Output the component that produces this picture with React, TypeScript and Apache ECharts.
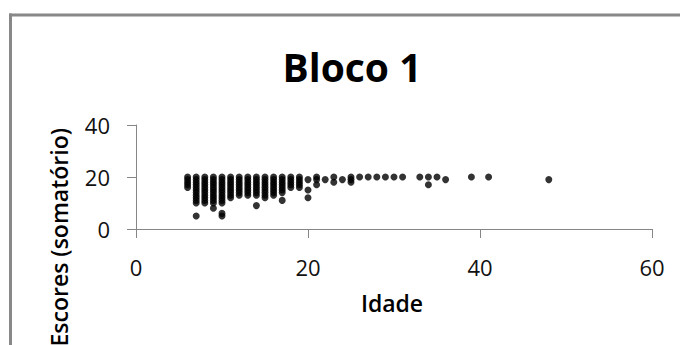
import React, { useEffect, useRef } from "react";
import * as echarts from "echarts";

const titleText = "Bloco 1";
const xAxisTitle = "Idade";
const yAxisTitle = "Escores (somatório)";

const xTicks = [0, 20, 40, 60];
const yTicks = [0, 20, 40];

const ages = [6, 7, 8, 9, 10, 11, 12, 13, 14, 15, 16, 17, 18, 19, 20, 21, 22, 23, 24, 25, 26, 27, 28, 29, 30, 31, 33, 34, 35, 36, 39, 41, 48];
const scoresByAge: number[][] = [
  [20, 19, 18, 17, 16],
  [20, 19, 18, 17, 16, 15, 14, 13, 12, 11, 10, 5],
  [20, 19, 18, 17, 16, 15, 14, 13, 12, 11, 10],
  [20, 19, 18, 17, 16, 15, 14, 13, 12, 11, 10, 8],
  [20, 19, 18, 17, 16, 15, 14, 13, 12, 11, 10, 6, 5],
  [20, 19, 18, 17, 16, 15, 14, 13, 12],
  [20, 19, 18, 17, 16, 15, 14, 13],
  [20, 19, 18, 17, 16, 15, 14, 13],
  [20, 19, 18, 17, 16, 15, 14, 13, 9],
  [20, 19, 18, 17, 16, 15, 14, 13, 12],
  [20, 19, 18, 17, 16, 15, 14, 13],
  [20, 19, 18, 17, 16, 15, 14, 11],
  [20, 19, 18, 17, 16],
  [20, 19, 18, 17, 16],
  [19, 15, 12],
  [20, 19, 17],
  [19],
  [20, 18],
  [19],
  [20, 19, 18],
  [20],
  [20],
  [20],
  [20],
  [20],
  [20],
  [20],
  [20, 17],
  [20],
  [19],
  [20],
  [20],
  [19],
];

const FONT = "'Open Sans', 'Noto Sans', sans-serif";

export default function App() {
  const ref = useRef<HTMLDivElement>(null);
  useEffect(() => {
    if (!ref.current) return;
    const chart = echarts.init(ref.current, undefined, { renderer: "svg" });
    const points: [number, number][] = [];
    ages.forEach((a, i) => {
      scoresByAge[i].forEach((s) => points.push([a, s]));
    });
    chart.setOption({
      animation: false,
      backgroundColor: "#fff",
      grid: { left: 136, right: 28, top: 125, bottom: 116, containLabel: false },
      xAxis: {
        type: "value",
        min: xTicks[0],
        max: xTicks[xTicks.length - 1],
        interval: 20,
        axisLine: { show: true, onZero: false, lineStyle: { color: "#868686", width: 1 } },
        axisTick: { show: true, length: 9, lineStyle: { color: "#868686" } },
        axisLabel: { margin: 27, fontSize: 22, fontFamily: FONT, color: "#111" },
        splitLine: { show: false },
      },
      yAxis: {
        type: "value",
        min: yTicks[0],
        max: yTicks[yTicks.length - 1],
        interval: 20,
        axisLine: { show: true, onZero: false, lineStyle: { color: "#868686", width: 1 } },
        axisTick: { show: true, length: 9, lineStyle: { color: "#868686" } },
        axisLabel: { margin: 26, fontSize: 22, fontFamily: FONT, color: "#111" },
        splitLine: { show: false },
      },
      graphic: [
        {
          type: "line",
          shape: { x1: 9, y1: 15, x2: 700, y2: 15 },
          style: { stroke: "#888", lineWidth: 3 },
          silent: true,
        },
        {
          type: "line",
          shape: { x1: 10.5, y1: 13.5, x2: 10.5, y2: 360 },
          style: { stroke: "#888", lineWidth: 3 },
          silent: true,
        },
        {
          type: "text",
          x: 352,
          y: 66,
          style: {
            text: titleText,
            font: `bold 39px ${FONT}`,
            fill: "#000",
            align: "center",
            verticalAlign: "middle",
          },
        },
        {
          type: "text",
          x: 392,
          y: 303,
          style: {
            text: xAxisTitle,
            font: `600 23px ${FONT}`,
            fill: "#000",
            align: "center",
            verticalAlign: "middle",
          },
        },
        {
          type: "text",
          x: 59,
          y: 128,
          rotation: Math.PI / 2,
          style: {
            text: yAxisTitle,
            font: `600 23px ${FONT}`,
            fill: "#000",
            align: "right",
            verticalAlign: "middle",
          },
        },
      ],
      series: [
        {
          type: "scatter",
          data: points,
          symbol: "circle",
          symbolSize: 7,
          itemStyle: { color: "#000" },
        },
      ],
    });
    return () => chart.dispose();
  }, []);
  return (
    <div
      ref={ref}
      style={{ position: "absolute", left: 0, top: 0, width: 680, height: 345, overflow: "hidden" }}
    />
  );
}
